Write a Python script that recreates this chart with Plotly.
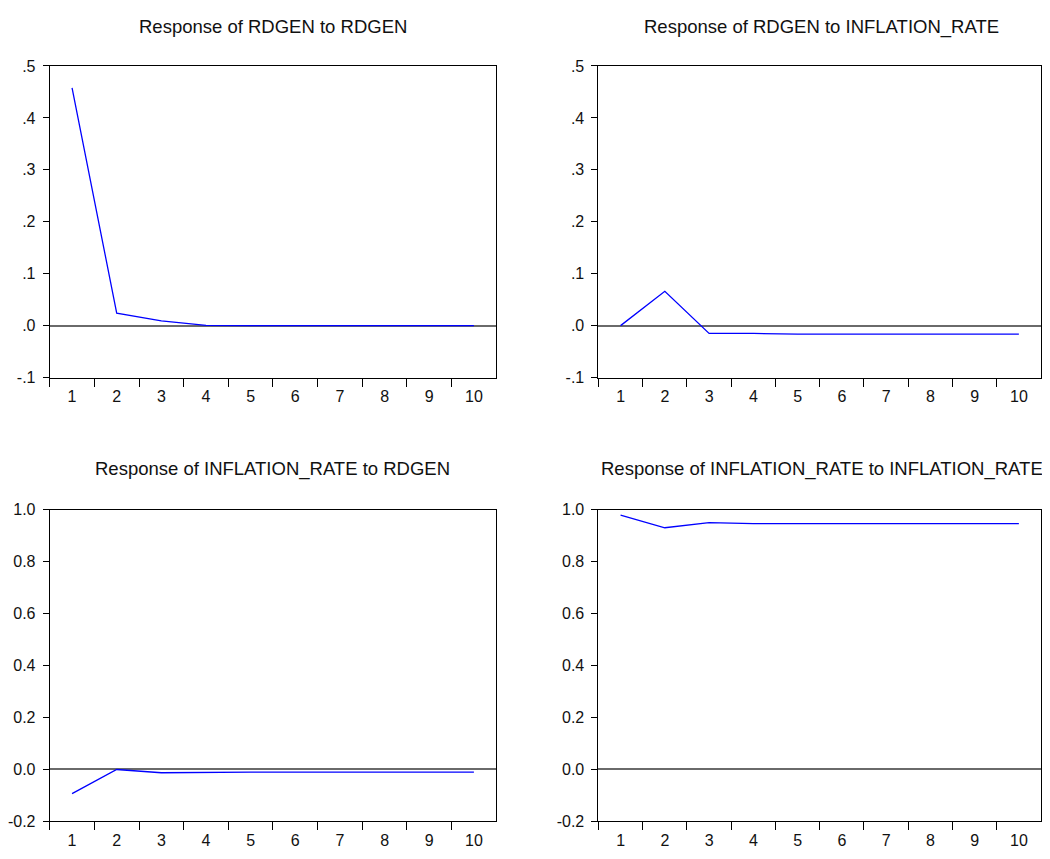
import plotly.graph_objects as go

periods = ["1", "2", "3", "4", "5", "6", "7", "8", "9", "10"]

rdgen_to_rdgen = [0.458, 0.024, 0.009, 0.0005, 0.0, 0.0, 0.0, 0.0, 0.0, 0.0]
rdgen_to_infl = [0.0, 0.066, -0.015, -0.015, -0.0165, -0.0165, -0.0165, -0.0165, -0.0165, -0.0165]
infl_to_rdgen = [-0.093, 0.0, -0.0126, -0.010, -0.010, -0.010, -0.010, -0.010, -0.010, -0.010]
infl_to_infl = [0.980, 0.931, 0.951, 0.947, 0.947, 0.947, 0.947, 0.947, 0.947, 0.947]

titles = [
    "Response of RDGEN to RDGEN",
    "Response of RDGEN to INFLATION_RATE",
    "Response of INFLATION_RATE to RDGEN",
    "Response of INFLATION_RATE to INFLATION_RATE",
]

top_ticks = [-0.1, 0.0, 0.1, 0.2, 0.3, 0.4, 0.5]
top_ticktext = ["-.1", ".0", ".1", ".2", ".3", ".4", ".5"]
bot_ticks = [-0.2, 0.0, 0.2, 0.4, 0.6, 0.8, 1.0]
bot_ticktext = ["-0.2", "0.0", "0.2", "0.4", "0.6", "0.8", "1.0"]

# page body has an 8px margin; size the figure so it fits the window exactly
OFF = 8
W, H = 1050 - 2 * OFF, 859 - 2 * OFF
FONT = "Liberation Sans, Arial, sans-serif"

# pixel boxes in page coordinates: (left, right, top, bottom)
boxes = [
    (43, 493, 59, 377),
    (596, 1046, 59, 377),
    (43, 493, 512, 830),
    (596, 1046, 512, 830),
]
title_y = [19, 19, 470, 470]

series = [rdgen_to_rdgen, rdgen_to_infl, infl_to_rdgen, infl_to_infl]

fig = go.Figure()
layout = dict(
    width=W, height=H,
    margin=dict(l=0, r=0, t=0, b=0),
    paper_bgcolor="white", plot_bgcolor="white",
    showlegend=False,
    font=dict(family=FONT, size=16, color="#111111"),
)
annotations = []
for i, (vals, box, title) in enumerate(zip(series, boxes, titles)):
    idx = "" if i == 0 else str(i + 1)
    l, r, t, b = [v - OFF for v in box]
    fig.add_trace(go.Scatter(
        x=periods, y=vals, mode="lines",
        line=dict(color="#0000FF", width=1.3),
        xaxis="x" + idx, yaxis="y" + idx,
    ))
    top = i < 2
    layout["xaxis" + idx] = dict(
        domain=[l / W, min(r / W, 1.0)], anchor="y" + idx,
        type="category", categoryorder="array", categoryarray=periods,
        range=[-0.5, 9.5], tickson="boundaries",
        ticks="outside", ticklen=8, tickcolor="black", tickwidth=1,
        ticklabelstandoff=4,
        showline=True, linecolor="black", linewidth=1, mirror=True,
        showgrid=False, zeroline=False,
        tickfont=dict(family=FONT, size=16, color="#111111"),
        fixedrange=True,
    )
    layout["yaxis" + idx] = dict(
        domain=[1 - b / H, 1 - t / H], anchor="x" + idx,
        range=[-0.1, 0.5] if top else [-0.2, 1.0],
        tickvals=top_ticks if top else bot_ticks,
        ticktext=top_ticktext if top else bot_ticktext,
        ticks="outside", ticklen=6, tickcolor="black", tickwidth=1,
        ticklabelstandoff=4,
        showline=True, linecolor="black", linewidth=1, mirror=True,
        showgrid=False,
        zeroline=True, zerolinecolor="#6a6a6a", zerolinewidth=1.5,
        tickfont=dict(family=FONT, size=16, color="#111111"),
        fixedrange=True,
    )
    annotations.append(dict(
        text=title, xref="paper", yref="paper",
        x=(l + r) / 2 / W, y=1 - (title_y[i] - OFF) / H,
        xanchor="center", yanchor="middle", showarrow=False,
        font=dict(family=FONT, size=18.5, color="#111111"),
    ))
layout["annotations"] = annotations
fig.update_layout(**layout)
fig.write_html("out.html")
